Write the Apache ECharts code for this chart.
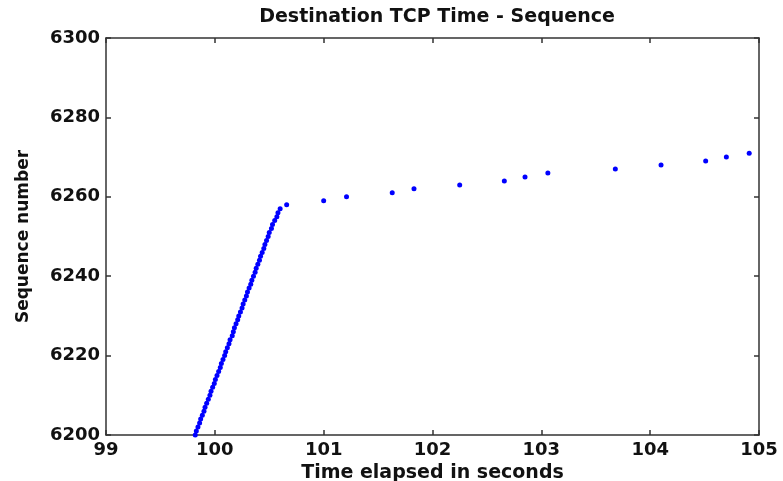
<!DOCTYPE html>
<html>
<head>
<meta charset="utf-8">
<script src="https://cdn.jsdelivr.net/npm/echarts@6/dist/echarts.min.js"></script>
<style>html,body{margin:0;padding:0;background:#fff}#c{width:783px;height:481px}</style>
</head>
<body>
<div id="c"></div>
<script>
// Time (s) for each received sequence number
var seqNumbers = [6200,6201,6202,6203,6204,6205,6206,6207,6208,6209,
  6210,6211,6212,6213,6214,6215,6216,6217,6218,6219,
  6220,6221,6222,6223,6224,6225,6226,6227,6228,6229,
  6230,6231,6232,6233,6234,6235,6236,6237,6238,6239,
  6240,6241,6242,6243,6244,6245,6246,6247,6248,6249,
  6250,6251,6252,6253,6254,6255,6256,6257,6258,
  6259,6260,6261,6262,6263,6264,6265,6266,6267,6268,6269,6270,6271];
var timesSec = [99.82,99.83,99.845,99.86,99.87,99.885,99.90,99.91,99.925,99.94,
  99.955,99.965,99.98,99.995,100.005,100.02,100.035,100.05,100.06,100.075,
  100.09,100.10,100.115,100.13,100.14,100.16,100.17,100.18,100.195,100.21,
  100.22,100.235,100.25,100.26,100.275,100.29,100.30,100.315,100.33,100.34,
  100.355,100.37,100.38,100.395,100.41,100.42,100.435,100.45,100.46,100.475,
  100.49,100.50,100.52,100.53,100.55,100.57,100.58,100.60,100.66,
  101.00,101.21,101.63,101.83,102.25,102.66,102.85,103.06,103.68,104.10,104.51,104.70,104.91];

var points = timesSec.map(function(t,i){ return [t, seqNumbers[i]]; });
var font = 'DejaVu Sans';
var chart = echarts.init(document.getElementById('c'));
var axisLine = {show:true, lineStyle:{color:'#333', width:1.5}};
var tick = {show:true, inside:true, length:5, lineStyle:{color:'#333', width:1.5}};
chart.setOption({
  animation:false,
  backgroundColor:'#fff',
  title:{text:'Destination TCP Time - Sequence', left:432, top:3, textAlign:'center',
    textStyle:{fontFamily:font, fontSize:19, fontWeight:'bold', color:'#111'}},
  grid:{left:106, right:24, top:38, bottom:46, containLabel:false, outerBoundsMode:'none'},
  xAxis:[{type:'value', min:99, max:105, interval:1, position:'bottom',
      name:'Time elapsed in seconds', nameLocation:'middle', nameGap:23,
      nameTextStyle:{fontFamily:font, fontSize:19, fontWeight:'bold', color:'#111'},
      axisLine:axisLine, axisTick:tick, splitLine:{show:false},
      axisLabel:{fontFamily:font, fontSize:18, fontWeight:'bold', color:'#111', margin:6}},
    {type:'value', min:99, max:105, interval:1, position:'top',
      axisLine:axisLine, axisTick:tick, splitLine:{show:false}, axisLabel:{show:false}}],
  yAxis:[{type:'value', min:6200, max:6300, interval:20, position:'left',
      name:'Sequence number', nameLocation:'middle', nameGap:74,
      nameTextStyle:{fontFamily:font, fontSize:17, fontWeight:'bold', color:'#111'},
      axisLine:axisLine, axisTick:tick, splitLine:{show:false},
      axisLabel:{fontFamily:font, fontSize:18, fontWeight:'bold', color:'#111', margin:6,
        formatter:function(v){ return String(v); }}},
    {type:'value', min:6200, max:6300, interval:20, position:'right',
      axisLine:axisLine, axisTick:tick, splitLine:{show:false}, axisLabel:{show:false}}],
  series:[{type:'scatter', data:points, symbol:'circle', symbolSize:5,
    itemStyle:{color:'#0000ff', opacity:1}}]
});
</script>
</body>
</html>
